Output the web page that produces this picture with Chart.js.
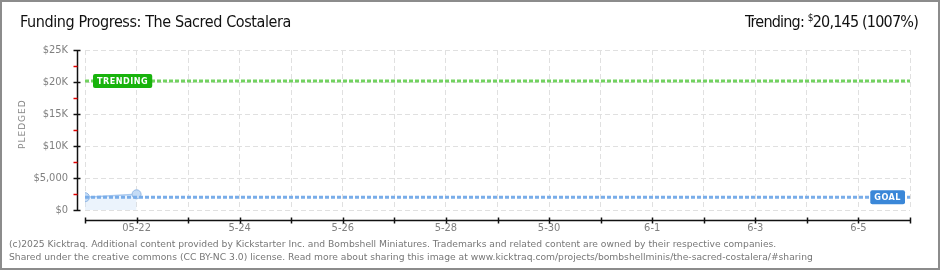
<!DOCTYPE html>
<html>
<head>
<meta charset="utf-8">
<script src="https://cdn.jsdelivr.net/npm/chart.js@4"></script>
<style>
  html, body { margin: 0; padding: 0; background: #fff; }
  #frame { position: relative; width: 936px; height: 266px; border: 2px solid #8c8c8c; overflow: hidden; }
  #chart { position: absolute; left: -2px; top: -2px; }
  .title { position: absolute; left: 18px; top: 10px; font: 16px "DejaVu Sans Condensed", "Liberation Sans Narrow", sans-serif; color: #111; letter-spacing: -0.4px; }
  .trend { position: absolute; right: 20px; top: 10px; font: 16px "DejaVu Sans Condensed", "Liberation Sans Narrow", sans-serif; color: #111; letter-spacing: -0.8px; }
  .trend sup { font-size: 10px; }
  .ytitle { position: absolute; left: 0px; top: 122px; width: 40px; text-align: center; transform: rotate(-90deg); font: 9px "DejaVu Sans", sans-serif; color: #888; letter-spacing: 1px; }
  .foot { position: absolute; left: 7px; font: 9.2px "DejaVu Sans", Verdana, sans-serif; color: #777; white-space: nowrap; }
</style>
</head>
<body>
<div id="frame">
  <canvas id="chart" width="940" height="270"></canvas>
  <div class="title">Funding Progress: The Sacred Costalera</div>
  <div class="trend">Trending: <sup>$</sup>20,145 (1007%)</div>
  <div class="ytitle">PLEDGED</div>
  <div class="foot" style="top:236px">(c)2025 Kicktraq. Additional content provided by Kickstarter Inc. and Bombshell Miniatures. Trademarks and related content are owned by their respective companies.</div>
  <div class="foot" style="top:249px">Shared under the creative commons (CC BY-NC 3.0) license. Read more about sharing this image at www.kicktraq.com/projects/bombshellminis/the-sacred-costalera/#sharing</div>
</div>
<script>
// days on the x axis (5-21 .. 6-6); labels shown every other day
const DAYS = ['5-21', '05-22', '5-23', '5-24', '5-25', '5-26', '5-27', '5-28', '5-29',
              '5-30', '5-31', '6-1', '6-2', '6-3', '6-4', '6-5', '6-6'];
const SHOWN_DAYS = ['05-22', '5-24', '5-26', '5-28', '5-30', '6-1', '6-3', '6-5'];

const PLEDGED = [2000, 2450];
const GOAL = 2000;
const TRENDING = 20145;

const Y_TICKS = [0, 5000, 10000, 15000, 20000, 25000];
const Y_LABELS = ['$0', '$5,000', '$10K', '$15K', '$20K', '$25K'];
const Y_MINOR_STEP = 2500;

const COLORS = {
  grid: '#e0e0e0',
  axis: '#111',
  minor: '#e00000',
  label: '#808080',
  pledgedLine: '#a9c9ef',
  pledgedFill: 'rgba(205, 225, 248, 0.4)',
  pointFill: '#c4dbf5',
  pointBorder: '#93b8e4',
  goal: '#79ade9',
  goalTag: '#3a87d8',
  trend: '#72d260',
  trendTag: '#18b30c',
};

const lastDay = DAYS.length - 1;

// ── Offset axes + tags ───────────────────────────────────────────────────────
const decorations = {
  id: 'decorations',
  afterDraw(chart) {
    const { ctx, scales: { x, y } } = chart;
    ctx.save();
    // y axis line, offset left of the plot
    const ax = Math.round(x.getPixelForValue(0) - 8) + 0.5;
    ctx.lineWidth = 1.5;
    ctx.strokeStyle = COLORS.axis;
    ctx.beginPath();
    ctx.moveTo(ax, y.getPixelForValue(25000));
    ctx.lineTo(ax, y.getPixelForValue(0));
    ctx.stroke();
    for (let v = 0; v <= 25000; v += Y_MINOR_STEP) {
      const py = Math.round(y.getPixelForValue(v)) + 0.5;
      const major = v % 5000 === 0;
      ctx.strokeStyle = major ? COLORS.axis : COLORS.minor;
      ctx.beginPath();
      ctx.moveTo(ax - 4, py);
      ctx.lineTo(major ? ax + 3 : ax, py);
      ctx.stroke();
    }
    // x axis line, offset below the plot
    const ay = Math.round(y.getPixelForValue(0) + 10) + 0.5;
    ctx.strokeStyle = COLORS.axis;
    ctx.beginPath();
    ctx.moveTo(x.getPixelForValue(0), ay);
    ctx.lineTo(x.getPixelForValue(lastDay), ay);
    ctx.stroke();
    DAYS.forEach((d, i) => {
      const px = Math.round(x.getPixelForValue(i)) + 0.5;
      ctx.beginPath();
      ctx.moveTo(px, ay - 3);
      ctx.lineTo(px, ay + 3);
      ctx.stroke();
    });

    // tags
    drawTag(ctx, 'TRENDING', x.getPixelForValue(0) + 8, y.getPixelForValue(TRENDING), COLORS.trendTag, false);
    drawTag(ctx, 'GOAL', x.getPixelForValue(lastDay) - 5, y.getPixelForValue(GOAL), COLORS.goalTag, true);
    ctx.restore();
  }
};

function drawTag(ctx, text, px, py, color, alignRight) {
  ctx.font = 'bold 9px "DejaVu Sans Condensed", sans-serif';
  ctx.letterSpacing = '0.5px';
  const w = ctx.measureText(text).width + 8;
  const h = 14;
  const left = alignRight ? px - w : px;
  ctx.fillStyle = color;
  ctx.beginPath();
  ctx.roundRect(left, py - h / 2, w, h, 2);
  ctx.fill();
  ctx.fillStyle = '#fff';
  ctx.textBaseline = 'middle';
  ctx.textAlign = 'left';
  ctx.fillText(text, left + 4, py + 0.5);
}

const ctx = document.getElementById('chart');

new Chart(ctx, {
  type: 'line',
  data: {
    datasets: [
      {
        label: 'Trending',
        data: [{ x: 0, y: TRENDING }, { x: lastDay, y: TRENDING }],
        borderColor: COLORS.trend,
        borderWidth: 3,
        borderDash: [4, 2],
        pointRadius: 0,
        fill: false,
      },
      {
        label: 'Goal',
        data: [{ x: 0, y: GOAL }, { x: lastDay, y: GOAL }],
        borderColor: COLORS.goal,
        borderWidth: 3,
        borderDash: [4, 2],
        pointRadius: 0,
        fill: false,
      },
      {
        label: 'Pledged',
        data: PLEDGED.map((v, i) => ({ x: i, y: v })),
        borderColor: COLORS.pledgedLine,
        backgroundColor: COLORS.pledgedFill,
        borderWidth: 1.5,
        pointRadius: 4.5,
        pointBackgroundColor: COLORS.pointFill,
        pointBorderColor: COLORS.pointBorder,
        pointBorderWidth: 1,
        fill: 'origin',
        tension: 0,
      },
    ]
  },
  options: {
    responsive: false,
    animation: false,
    layout: { padding: { left: 0, right: 30, top: 50, bottom: 0 } },
    plugins: { legend: { display: false }, tooltip: { enabled: false } },
    scales: {
      x: {
        type: 'linear',
        min: 0, max: lastDay,
        afterFit: s => { s.height = 60; },
        afterBuildTicks: s => { s.ticks = DAYS.map((d, i) => ({ value: i })); },
        grid: { color: COLORS.grid, drawTicks: false },
        border: { display: false, dash: [5, 3] },
        ticks: {
          padding: 12,
          autoSkip: false,
          maxRotation: 0,
          color: COLORS.label,
          font: { family: "'DejaVu Sans Condensed', sans-serif", size: 11 },
          callback: v => SHOWN_DAYS.includes(DAYS[v]) ? DAYS[v] : ''
        }
      },
      y: {
        min: 0, max: 25000,
        afterFit: s => { s.width = 85; },
        afterBuildTicks: s => { s.ticks = Y_TICKS.map(v => ({ value: v })); },
        grid: { color: COLORS.grid, drawTicks: false },
        border: { display: false, dash: [5, 3] },
        ticks: {
          padding: 17,
          color: COLORS.label,
          font: { family: "'DejaVu Sans Condensed', sans-serif", size: 11 },
          callback: v => Y_LABELS[Y_TICKS.indexOf(v)]
        }
      }
    }
  },
  plugins: [decorations]
});
</script>
</body>
</html>
